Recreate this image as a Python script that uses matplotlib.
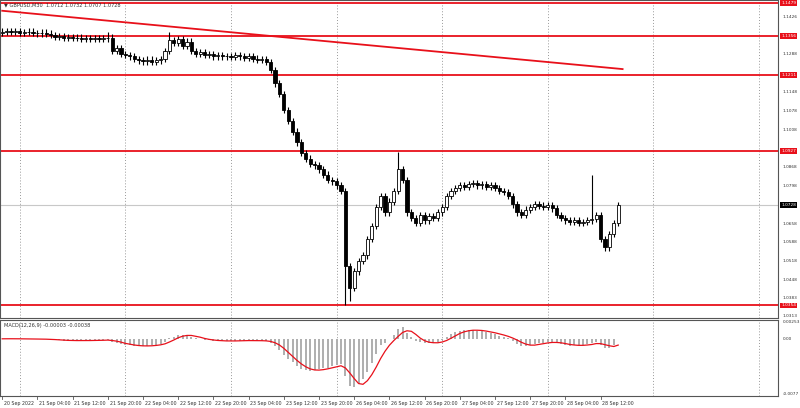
import matplotlib
matplotlib.use("Agg")
import matplotlib.pyplot as plt
import numpy as np
import pandas as pd

closes = [1.1372,1.1375,1.1370,1.1373,1.1368,1.1370,1.1372,1.1368,1.1366,1.1369,
1.1365,1.1360,1.1352,1.1355,1.1350,1.1353,1.1348,1.1350,1.1346,1.1349,
1.1345,1.1348,1.1344,1.1347,1.1350,1.1300,1.1310,1.1290,1.1285,1.1280,
1.1270,1.1265,1.1262,1.1268,1.1260,1.1265,1.1270,1.1300,1.1340,1.1330,
1.1345,1.1320,1.1335,1.1300,1.1290,1.1295,1.1285,1.1290,1.1280,1.1285,
1.1280,1.1282,1.1278,1.1285,1.1280,1.1275,1.1280,1.1272,1.1268,1.1270,
1.1260,1.1230,1.1180,1.1140,1.1080,1.1040,1.1000,1.0960,1.0920,1.0900,
1.0880,1.0875,1.0860,1.0840,1.0820,1.0815,1.0800,1.0780,1.0500,1.0420,
1.0480,1.0520,1.0540,1.0600,1.0650,1.0720,1.0760,1.0700,1.0740,1.0780,
1.0860,1.0820,1.0700,1.0680,1.0660,1.0690,1.0670,1.0685,1.0680,1.0700,
1.0720,1.0760,1.0780,1.0790,1.0800,1.0795,1.0805,1.0810,1.0800,1.0805,
1.0795,1.0800,1.0790,1.0780,1.0775,1.0760,1.0730,1.0700,1.0690,1.0710,
1.0720,1.0730,1.0725,1.0720,1.0728,1.0715,1.0690,1.0680,1.0670,1.0665,
1.0670,1.0660,1.0665,1.0670,1.0675,1.0690,1.0600,1.0570,1.0620,1.0660,
1.0728]
first_open = 1.1368
wick = 0.0012
spike_highs = {24: 1.1372, 38: 1.1372, 90: 1.0925, 134: 1.0840}
spike_lows = {78: 1.0354, 79: 1.0370, 137: 1.0555}

levels = [1.1479, 1.1356, 1.1211, 1.0927, 1.0354]
trend_start = (0, 1.1450)
trend_end = (141, 1.1233)
last_price = 1.0728
axis_ticks = [1.1426, 1.1288, 1.1148, 1.1078, 1.1008, 1.0868, 1.0798,
              1.0658, 1.0588, 1.0518, 1.0448, 1.0383, 1.0313]
time_labels = ["20 Sep 2022","21 Sep 04:00","21 Sep 12:00","21 Sep 20:00","22 Sep 04:00",
               "22 Sep 12:00","22 Sep 20:00","23 Sep 04:00","23 Sep 12:00","23 Sep 20:00",
               "26 Sep 04:00","26 Sep 12:00","26 Sep 20:00","27 Sep 04:00","27 Sep 12:00",
               "27 Sep 20:00","28 Sep 04:00","28 Sep 12:00"]
title = "▼ GBPUSD,M30  1.0712 1.0732 1.0707 1.0728"

n = len(closes)
opens = [first_open] + closes[:-1]
highs = [max(o, c) + wick for o, c in zip(opens, closes)]
lows = [min(o, c) - wick for o, c in zip(opens, closes)]
for k, v in spike_highs.items(): highs[k] = v
for k, v in spike_lows.items(): lows[k] = v

FS = 3.6
RFS = 3.1
W, H = 800, 408
fig = plt.figure(figsize=(8, 4.08), dpi=100)
fig.patch.set_facecolor("white")
axw = 778 / W
ax = fig.add_axes([0.0, 1 - 318 / H, axw, 318 / H])
mx = fig.add_axes([0.0, 1 - 396 / H, axw, 76 / H])
ppx = 4.4
xlim = (-0.5, -0.5 + 778 / ppx)
ylo, yhi = 1.0307, 1.1490
for a in (ax, mx):
    a.set_xlim(*xlim)
    a.set_xticks([])
    a.set_yticks([])
    for s in a.spines.values():
        s.set_color("#555555"); s.set_linewidth(0.8)
ax.set_ylim(ylo, yhi)

for g in range(4, 180, 24):
    for a in (ax, mx):
        a.axvline(g, color="#999999", lw=0.7, ls=(0, (1, 2)), zorder=0)

x = np.arange(n)
for i in range(n):
    o, c, h, l = opens[i], closes[i], highs[i], lows[i]
    ax.vlines(i, l, h, color="black", lw=0.8, zorder=3)
    fc = "white" if c >= o else "black"
    ax.bar(i, max(abs(c - o), 0.0002), bottom=min(o, c), width=0.7,
           facecolor=fc, edgecolor="black", lw=0.6, zorder=4)

for lv in levels:
    ax.axhline(lv, color="#e8101a", lw=1.3, zorder=2)
ax.plot([trend_start[0], trend_end[0]], [trend_start[1], trend_end[1]], color="#e8101a", lw=1.3, zorder=2)
ax.axhline(last_price, color="#c8c8c8", lw=0.8, zorder=1)

tr = ax.get_yaxis_transform()
for t in axis_ticks:
    ax.text(1.006, t, f"{t:.4f}", transform=tr, fontsize=RFS, va="center", ha="left",
            color="#333333", clip_on=False)
for lv in levels:
    ax.text(1.004, lv, f"{lv:.4f}", transform=tr, fontsize=RFS, va="center", ha="left",
            color="white", bbox=dict(boxstyle="square,pad=0.2", fc="#e8101a", ec="none"), clip_on=False)
ax.text(1.004, last_price, f"{last_price:.4f}", transform=tr, fontsize=RFS, va="center",
        ha="left", color="white", bbox=dict(boxstyle="square,pad=0.2", fc="black", ec="none"), clip_on=False)
ax.text(0.005, 0.993, title, transform=ax.transAxes, fontsize=FS, va="top", ha="left", color="#333333")

s = pd.Series(closes)
fast = s.ewm(span=6, adjust=False).mean()
slow = s.ewm(span=13, adjust=False).mean()
macd = (fast - slow).values
signal = pd.Series(macd).rolling(4, min_periods=1).mean().values
mtop, mbot = 0.00253, -0.0077
scale = mbot * 0.85 / macd.min()
hist = macd * scale
sig = signal * scale
mx.set_ylim(mbot, mtop)
mx.bar(x, hist, width=0.45, color="#b0b0b0", zorder=2)
mx.plot(x, sig, color="#e8101a", lw=0.9, zorder=3)
mtr = mx.get_yaxis_transform()
mx.text(1.006, mtop, "0.00253", transform=mtr, fontsize=RFS, va="top", ha="left", color="#333333", clip_on=False)
mx.text(1.006, 0.0, "0.00", transform=mtr, fontsize=RFS, va="center", ha="left", color="#333333", clip_on=False)
mx.text(1.006, mbot, "-0.0077", transform=mtr, fontsize=RFS, va="bottom", ha="left", color="#333333", clip_on=False)
mx.text(0.005, 0.96, "MACD(12,26,9) -0.00003 -0.00038", transform=mx.transAxes, fontsize=FS,
        va="top", ha="left", color="#333333")

xt = mx.get_xaxis_transform()
for k, lab in enumerate(time_labels):
    pos = k * 8
    mx.plot([pos, pos], [-0.04, 0], transform=xt, color="#555555", lw=0.6, clip_on=False)
    mx.text(pos + 0.4, -0.06, lab, transform=xt, fontsize=3.4, va="top", ha="left",
            color="#333333", clip_on=False)

fig.savefig("out.png", dpi=100, facecolor="white")
